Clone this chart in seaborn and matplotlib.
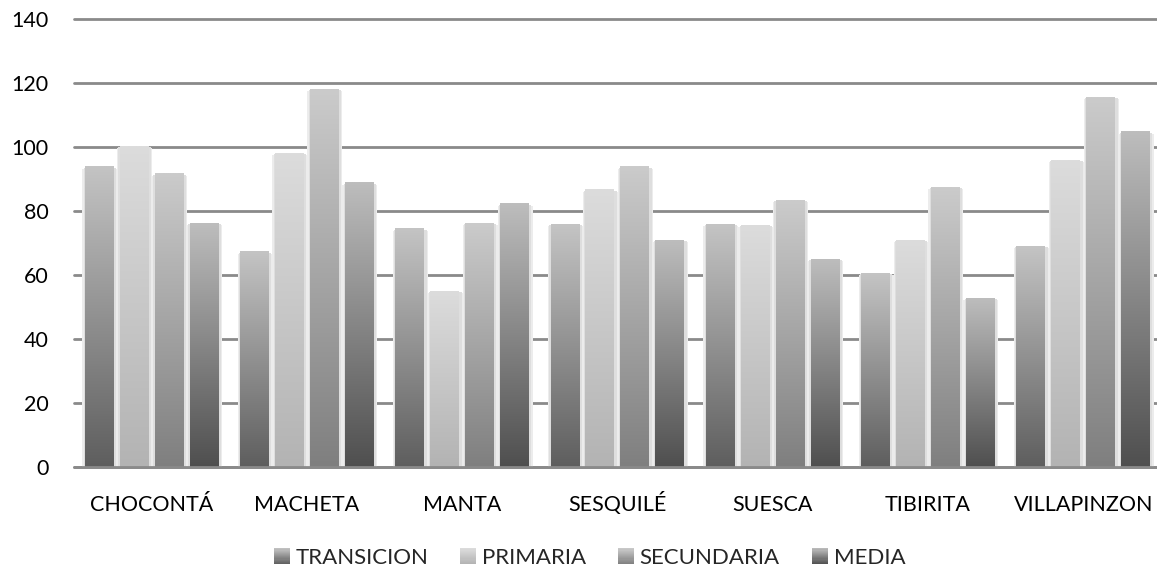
import numpy as np
import pandas as pd
import matplotlib
matplotlib.use("Agg")
import matplotlib.pyplot as plt
import seaborn as sns
from matplotlib.colors import LinearSegmentedColormap, to_rgb
from matplotlib.patches import Rectangle
from matplotlib.legend_handler import HandlerBase

categories = ["CHOCONTÁ", "MACHETA", "MANTA", "SESQUILÉ", "SUESCA", "TIBIRITA", "VILLAPINZON"]
series = ["TRANSICION", "PRIMARIA", "SECUNDARIA", "MEDIA"]
transicion = [93.8, 67.2, 74.4, 75.9, 75.9, 60.6, 69.0]
primaria = [100.3, 98.1, 55.0, 86.6, 75.6, 70.9, 95.9]
secundaria = [91.6, 118.1, 76.2, 93.8, 83.4, 87.5, 115.6]
media = [76.2, 88.8, 82.2, 70.9, 65.0, 52.8, 104.7]
yticks = [0, 20, 40, 60, 80, 100, 120, 140]

# gradient colours (top, bottom) per series
grad_top = ["#c4c4c4", "#dcdcdc", "#cbcbcb", "#bdbdbd"]
grad_bottom = ["#5e5e5e", "#b3b3b3", "#7f7f7f", "#4f4f4f"]

values = [transicion, primaria, secundaria, media]
rows = []
for s, vals in zip(series, values):
    for c, v in zip(categories, vals):
        rows.append({"category": c, "series": s, "value": v})
df = pd.DataFrame(rows)

sns.set_theme(style="white")
plt.rcParams["font.family"] = ["Lato", "DejaVu Sans"]

W, H = 1157, 569
fig = plt.figure(figsize=(W / 100, H / 100), dpi=100)
ax = fig.add_axes([74 / W, 102 / H, (W - 74) / W, (467 - 19) / H])

mid_colors = [tuple((np.array(to_rgb(t)) + np.array(to_rgb(b))) / 2) for t, b in zip(grad_top, grad_bottom)]
sns.barplot(data=df, x="category", y="value", hue="series", order=categories,
            hue_order=series, palette=mid_colors, width=0.9, gap=0.17,
            errorbar=None, legend=False, ax=ax)

xlim = (-0.5, 6.475)
ylim = (0, 140)
px_x = (xlim[1] - xlim[0]) / (W - 74)

for si, cont in enumerate(ax.containers):
    cmap = LinearSegmentedColormap.from_list(f"g{si}", [grad_bottom[si], grad_top[si]])
    grad = np.linspace(0, 1, 256).reshape(-1, 1)
    for bar in cont.patches:
        x0, y0 = bar.get_x(), bar.get_y()
        w, h = bar.get_width(), bar.get_height()
        bar.set_visible(False)
        # soft glow / shadow around the bar
        ax.add_patch(Rectangle((x0 - 2.5 * px_x, y0), w + 6 * px_x, h - 0.6,
                               facecolor="#ececec", edgecolor="none", zorder=2.4))
        ax.add_patch(Rectangle((x0 - 1.2 * px_x, y0), w + 3.5 * px_x, h - 0.3,
                               facecolor="#dedede", edgecolor="none", zorder=2.5))
        ax.imshow(grad, cmap=cmap, origin="lower", aspect="auto",
                  extent=[x0, x0 + w, y0, y0 + h], zorder=3, interpolation="bilinear")

ax.set_xlim(*xlim)
ax.set_ylim(*ylim)
ax.set_yticks(yticks)
ax.set_xlabel("")
ax.set_ylabel("")
for sp in ax.spines.values():
    sp.set_visible(False)
ax.yaxis.grid(True, color="#8a8a8a", linewidth=2)
ax.xaxis.grid(False)
ax.set_axisbelow(True)
for gl in ax.get_ygridlines():
    gl.set_clip_on(False)
ax.axhline(0, color="#8a8a8a", linewidth=2, zorder=5, clip_on=False)

ax.tick_params(axis="y", length=0, pad=18.5, labelsize=15.5, labelcolor="black")
ax.tick_params(axis="x", length=0, pad=31.5, labelsize=15.5, labelcolor="black")
for lab in ax.get_xticklabels():
    lab.set_verticalalignment("baseline")


class GradHandler(HandlerBase):
    def __init__(self, top, bottom):
        super().__init__()
        self.top = np.array(to_rgb(top))
        self.bottom = np.array(to_rgb(bottom))

    def create_artists(self, legend, orig_handle, xdescent, ydescent, width, height, fontsize, trans):
        n = 14
        side = min(width, height)
        x0 = -xdescent
        y0 = -ydescent + (height - side) / 2
        arts = []
        for i in range(n):
            f = (i + 0.5) / n
            col = self.bottom * (1 - f) + self.top * f
            r = Rectangle((x0, y0 + side * i / n), side, side / n + 0.01,
                          facecolor=col, edgecolor="none", transform=trans)
            arts.append(r)
        return arts


handles = [Rectangle((0, 0), 1, 1) for _ in series]
handler_map = {h: GradHandler(t, b) for h, t, b in zip(handles, grad_top, grad_bottom)}
fig.legend(handles, series, handler_map=handler_map, loc="center",
           bbox_to_anchor=(589.5 / W, 1 - 558 / H), ncol=4, frameon=False,
           fontsize=16.0, handlelength=0.72, handleheight=0.72, handletextpad=0.25,
           columnspacing=1.45, borderpad=0, borderaxespad=0)

fig.savefig("out.png", dpi=100)
